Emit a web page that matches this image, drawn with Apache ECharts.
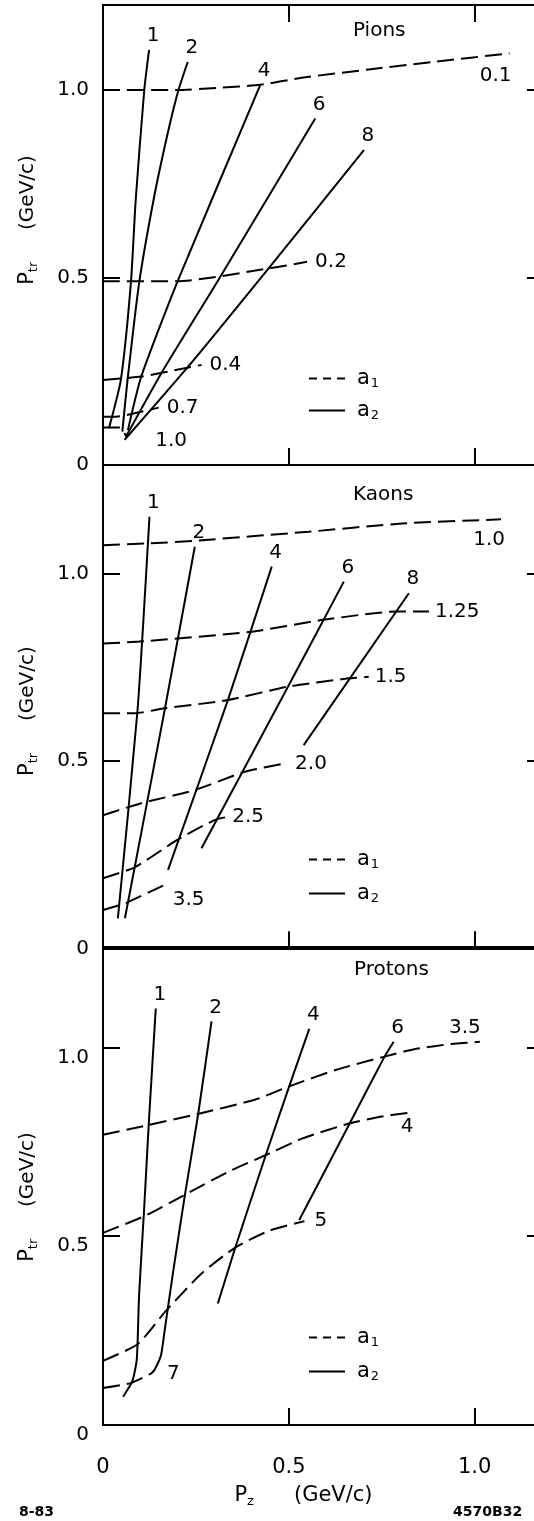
<!DOCTYPE html>
<html>
<head>
<meta charset="utf-8">
<script src="https://cdn.jsdelivr.net/npm/echarts@6/dist/echarts.min.js"></script>
<style>
  html, body { margin: 0; padding: 0; background: #fff; overflow: hidden; }
  #chart { width: 534px; height: 1521px; }
</style>
</head>
<body>
<div id="chart"></div>
<script>
// ---- axis ticks and panel extents (GeV/c) ----
const xTickValues = [0, 0.5, 1.0];
const yTickValues = [0, 0.5, 1.0];
const xMax = 1.2;
const panelNames = ['Pions', 'Kaons', 'Protons'];
const panelYMax = [1.227, 1.289, 1.266];

// ---- Pions ----
const pionA1Labels = ['0.1', '0.2', '0.4', '0.7', '1.0'];
const pionA1Curves = [
  [[0, 1.0], [0.2, 1.0], [0.31, 1.006], [0.423, 1.014], [0.535, 1.033], [0.715, 1.055], [0.895, 1.076], [1.094, 1.098]],
  [[0, 0.49], [0.197, 0.49], [0.445, 0.524], [0.549, 0.542]],
  [[0, 0.227], [0.103, 0.236], [0.22, 0.258], [0.265, 0.267]],
  [[0, 0.129], [0.035, 0.129], [0.085, 0.138], [0.15, 0.153]],
  [[0, 0.10], [0.045, 0.10], [0.065, 0.072]]
];
const pionA2Labels = ['1', '2', '4', '6', '8'];
const pionA2Curves = [
  [[0.016, 0.098], [0.048, 0.227], [0.075, 0.485], [0.088, 0.707], [0.111, 1.0], [0.124, 1.107]],
  [[0.052, 0.089], [0.066, 0.227], [0.097, 0.484], [0.136, 0.707], [0.174, 0.884], [0.203, 1.0], [0.228, 1.075]],
  [[0.067, 0.093], [0.103, 0.236], [0.202, 0.493], [0.423, 1.013]],
  [[0.062, 0.076], [0.157, 0.245], [0.31, 0.493], [0.571, 0.924]],
  [[0.058, 0.067], [0.233, 0.267], [0.445, 0.524], [0.702, 0.84]]
];

// ---- Kaons ----
const kaonA1Labels = ['1.0', '1.25', '1.5', '2.0', '2.5', '3.5'];
const kaonA1Curves = [
  [[0, 1.075], [0.125, 1.08], [0.247, 1.087], [0.553, 1.111], [0.805, 1.133], [1.071, 1.144]],
  [[0, 0.813], [0.097, 0.818], [0.395, 0.844], [0.593, 0.876], [0.787, 0.898], [0.877, 0.898]],
  [[0, 0.627], [0.085, 0.627], [0.166, 0.64], [0.336, 0.662], [0.498, 0.698], [0.661, 0.72], [0.715, 0.724]],
  [[0, 0.355], [0.103, 0.387], [0.247, 0.422], [0.382, 0.471], [0.49, 0.493]],
  [[0, 0.187], [0.085, 0.216], [0.2, 0.289], [0.3, 0.342], [0.337, 0.351]],
  [[0, 0.102], [0.044, 0.115], [0.06, 0.12], [0.166, 0.169]]
];
const kaonA2Labels = ['1', '2', '4', '6', '8'];
const kaonA2Curves = [
  [[0.04, 0.08], [0.093, 0.636], [0.125, 1.151]],
  [[0.059, 0.08], [0.166, 0.636], [0.247, 1.071]],
  [[0.175, 0.209], [0.336, 0.662], [0.454, 1.018]],
  [[0.265, 0.267], [0.498, 0.698], [0.648, 0.978]],
  [[0.54, 0.542], [0.823, 0.947]]
];

// ---- Protons ----
const protonA1Labels = ['3.5', '4', '5', '7'];
const protonA1Curves = [
  [[0, 0.769], [0.12, 0.794], [0.251, 0.823], [0.41, 0.862], [0.501, 0.897], [0.628, 0.941], [0.755, 0.975], [0.837, 0.995], [0.927, 1.008], [1.014, 1.015]],
  [[0, 0.509], [0.111, 0.553], [0.215, 0.607], [0.338, 0.671], [0.438, 0.715], [0.537, 0.759], [0.664, 0.799], [0.755, 0.818], [0.832, 0.828]],
  [[0, 0.17], [0.093, 0.214], [0.17, 0.303], [0.265, 0.401], [0.356, 0.47], [0.446, 0.514], [0.542, 0.54]],
  [[0, 0.098], [0.074, 0.111], [0.129, 0.136]]
];
const protonA2Labels = ['1', '2', '4', '6'];
const protonA2Curves = [
  [[0.054, 0.075], [0.079, 0.116], [0.091, 0.175], [0.097, 0.342], [0.111, 0.578], [0.124, 0.813], [0.142, 1.103]],
  [[0.129, 0.136], [0.138, 0.145], [0.156, 0.185], [0.165, 0.244], [0.188, 0.401], [0.22, 0.607], [0.256, 0.823], [0.292, 1.069]],
  [[0.309, 0.322], [0.356, 0.47], [0.438, 0.715], [0.501, 0.897], [0.555, 1.049]],
  [[0.528, 0.543], [0.664, 0.799], [0.755, 0.971], [0.782, 1.015]]
];

// ---- label placement for the curve ends (styling only) ----
const FONT = 'DejaVu Sans';
const topLabel = { position: 'top', distance: 4, offset: [4, 0] };
const rightLabel = d => ({ position: 'right', distance: d });
const pionA1Place = [
  { position: 'bottom', distance: 4, offset: [-14, 8] },
  rightLabel(8), rightLabel(8), rightLabel(8),
  { position: 'right', distance: 28, offset: [0, 3] }
];
const kaonA1Place = [
  { position: 'bottom', distance: 4, offset: [-12, 6] },
  rightLabel(6), rightLabel(6), rightLabel(10), rightLabel(4),
  { position: 'right', distance: 8, offset: [0, 15] }
];
const protonA1Place = [
  { position: 'top', distance: 4, offset: [-15, 0] },
  { position: 'bottom', distance: 4, offset: [-5, 0] },
  rightLabel(10), rightLabel(16)
];

// ---- panel geometry (pixels) ----
const gridLeft = 103;
const gridWidth = 446;
const panelTop = [5, 465, 947];
const panelHeight = [460, 483.3, 478];

function curveSeries(panel, pts, kind, text, place) {
  const data = pts.map((p, i) => {
    if (i !== pts.length - 1) return p;
    return {
      value: p,
      symbol: 'circle',
      symbolSize: 0.01,
      label: Object.assign({
        show: true, formatter: text, color: '#000',
        fontFamily: FONT, fontSize: 20
      }, place)
    };
  });
  return {
    type: 'line',
    name: kind,
    xAxisIndex: panel * 2,
    yAxisIndex: panel * 2,
    data: data,
    symbol: 'none',
    showSymbol: true,
    smooth: 0.2,
    silent: true,
    clip: false,
    lineStyle: {
      color: '#000',
      width: 2,
      type: kind === 'a1' ? [17, 7] : 'solid'
    },
    itemStyle: { color: '#000' },
    emphasis: { disabled: true }
  };
}

const series = [];
[
  [pionA1Curves, pionA1Labels, pionA1Place, pionA2Curves, pionA2Labels],
  [kaonA1Curves, kaonA1Labels, kaonA1Place, kaonA2Curves, kaonA2Labels],
  [protonA1Curves, protonA1Labels, protonA1Place, protonA2Curves, protonA2Labels]
].forEach(([a1c, a1l, a1p, a2c, a2l], panel) => {
  a1c.forEach((c, i) => series.push(curveSeries(panel, c, 'a1', a1l[i], a1p[i])));
  a2c.forEach((c, i) => series.push(curveSeries(panel, c, 'a2', a2l[i], topLabel)));
});

const tickText = v => (Math.abs(v) < 1e-9 ? '0' : (yTickValues.concat(xTickValues).some(t => Math.abs(t - v) < 1e-9) ? v.toFixed(1) : ''));
const tickStyle = { show: true, inside: true, length: 17, lineStyle: { color: '#000', width: 2 } };
const lineStyleBlack = { show: true, onZero: false, lineStyle: { color: '#000', width: 2 } };

const grids = [], xAxes = [], yAxes = [], legends = [];
const yNamePad = [[0, 0, 0, 30], [0, 9, 0, 0], [0, 22, 0, 0]];
const legendTop = [362, 843, 1321];
const legendGap = [9, 11, 11];

// legend glyphs: short-dash and solid strokes
const dashIcon = 'path://M0,0h8v2h-8z M14,0h8v2h-8z M28,0h8v2h-8z';
const solidIcon = 'path://M0,0h36v2h-36z';

for (let p = 0; p < 3; p++) {
  grids.push({
    left: gridLeft, width: gridWidth, top: panelTop[p], height: panelHeight[p],
    containLabel: false, outerBoundsMode: 'none', show: false
  });
  const isLast = p === 2;
  // bottom axis
  xAxes.push({
    type: 'value', gridIndex: p, position: 'bottom', min: 0, max: xMax, interval: 0.5,
    axisLine: lineStyleBlack,
    axisTick: tickStyle,
    splitLine: { show: false },
    axisLabel: {
      show: isLast, margin: 32, color: '#000', fontFamily: FONT, fontSize: 21,
      formatter: v => tickText(v)
    },
    name: isLast ? '{p|P}{s|z}      (GeV/c)' : '',
    nameLocation: 'middle', nameGap: 58,
    nameTextStyle: {
      color: '#000', fontFamily: FONT, fontSize: 21, padding: [0, 45, 0, 0],
      rich: {
        p: { fontFamily: FONT, fontSize: 21, color: '#000', lineHeight: 26 },
        s: { fontFamily: FONT, fontSize: 13, color: '#000', padding: [12, 0, 0, 0], lineHeight: 26 }
      }
    }
  });
  // top axis: ticks only
  xAxes.push({
    type: 'value', gridIndex: p, position: 'top', min: 0, max: xMax, interval: 0.5,
    axisLine: lineStyleBlack,
    axisTick: Object.assign({}, tickStyle, { show: p === 0 }),
    axisLabel: { show: false }, splitLine: { show: false }
  });
  // left axis
  yAxes.push({
    type: 'value', gridIndex: p, position: 'left', min: 0, max: panelYMax[p], interval: 0.5,
    axisLine: lineStyleBlack,
    axisTick: tickStyle,
    splitLine: { show: false },
    axisLabel: Object.assign({
      margin: 14, color: '#000', fontFamily: FONT, fontSize: 20,
      formatter: v => tickText(v)
    }, isLast ? { verticalAlign: 'top', lineHeight: 20 } : {}),
    name: '{p|P}{s|tr}     (GeV/c)',
    nameLocation: 'middle', nameRotate: 90, nameGap: 62,
    nameTextStyle: {
      color: '#000', fontFamily: FONT, fontSize: 20, padding: yNamePad[p],
      rich: {
        p: { fontFamily: FONT, fontSize: 21, color: '#000', lineHeight: 26 },
        s: { fontFamily: FONT, fontSize: 13, color: '#000', padding: [12, 0, 0, 0], lineHeight: 26 }
      }
    }
  });
  // right axis: ticks only (its frame edge lies past the canvas)
  yAxes.push({
    type: 'value', gridIndex: p, position: 'right', min: 0, max: panelYMax[p], interval: 0.5,
    axisLine: { show: false, onZero: false },
    axisTick: Object.assign({}, tickStyle, { length: 22 }),
    axisLabel: { show: false }, splitLine: { show: false }
  });
  legends.push({
    orient: 'vertical', left: 304, top: legendTop[p], itemGap: legendGap[p],
    itemWidth: 38, itemHeight: 2, selectedMode: false,
    data: [
      { name: 'a1', icon: dashIcon, itemStyle: { color: '#000' } },
      { name: 'a2', icon: solidIcon, itemStyle: { color: '#000' } }
    ],
    formatter: n => '{a|a}{s|' + n.slice(1) + '}',
    textStyle: {
      color: '#000', padding: [0, 0, 0, 6],
      rich: {
        a: { fontFamily: FONT, fontSize: 21, color: '#000', lineHeight: 24 },
        s: { fontFamily: FONT, fontSize: 13, color: '#000', padding: [10, 0, 0, 1], lineHeight: 24 }
      }
    }
  });
}

const titleStyle = { color: '#000', fontFamily: FONT, fontSize: 20, fontWeight: 'normal' };
const smallStyle = { color: '#000', fontFamily: FONT, fontSize: 14, fontWeight: 'bold' };
const titles = [
  { text: panelNames[0], left: 348, top: 16, textStyle: titleStyle },
  { text: panelNames[1], left: 348, top: 480, textStyle: titleStyle },
  { text: panelNames[2], left: 349, top: 955, textStyle: titleStyle },
  { text: '8-83', left: 14, top: 1500, textStyle: smallStyle },
  { text: '4570B32', left: 448, top: 1500, textStyle: smallStyle }
];

const chart = echarts.init(document.getElementById('chart'), null, { renderer: 'canvas' });
chart.setOption({
  animation: false,
  backgroundColor: '#fff',
  title: titles,
  legend: legends,
  grid: grids,
  xAxis: xAxes,
  yAxis: yAxes,
  series: series
});
</script>
</body>
</html>
